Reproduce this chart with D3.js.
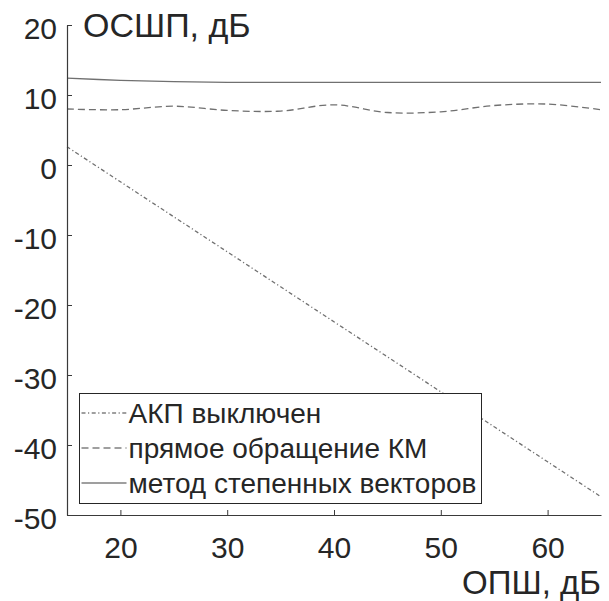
<!DOCTYPE html>
<html>
<head>
<meta charset="utf-8">
<script src="https://cdn.jsdelivr.net/npm/d3@7"></script>
<style>
  html, body { margin: 0; padding: 0; background: #fff; }
  svg { display: block; }
  text { font-family: "Liberation Sans", Arial, Helvetica, sans-serif; fill: #262626; }
</style>
</head>
<body>
<svg id="chart" width="609" height="601"></svg>
<script>
// Input SNR, dB
const snrIn = [15, 20, 25, 30, 35, 40, 45, 50, 55, 60, 65];
// Output SINR, dB, for each processing mode
const aapOff = [2.6, -2.4, -7.4, -12.4, -17.4, -22.4, -27.4, -32.4, -37.4, -42.4, -47.4];
const directInversion = [8.0, 7.9, 8.4, 7.8, 7.7, 8.6, 7.5, 7.6, 8.5, 8.7, 7.9];
const powerMethod = [12.4, 12.1, 11.9, 11.8, 11.8, 11.8, 11.8, 11.8, 11.8, 11.8, 11.8];

const xTicks = [20, 30, 40, 50, 60];
const yTicks = [-50, -40, -30, -20, -10, 0, 10, 20];

const seriesNames = ["АКП выключен", "прямое обращение КМ", "метод степенных векторов"];
const seriesDash = ["4,2.5,1.2,2.5", "7,4", null];
const seriesData = [aapOff, directInversion, powerMethod];

const yTitle = "ОСШП, дБ";
const xTitle = "ОПШ, дБ";

const svg = d3.select("#chart");
const plot = { left: 67, right: 601, top: 25, bottom: 515 };

const x = d3.scaleLinear().domain([15, 65]).range([plot.left, plot.right]);
const y = d3.scaleLinear().domain([-50, 20]).range([plot.bottom, plot.top]);

const lineColor = "#707070";
const axisColor = "#3a3a3a";

// Series lines
const line = d3.line().curve(d3.curveCatmullRom.alpha(0.5));
seriesData.forEach((vals, i) => {
  const pts = snrIn.map((v, k) => [x(v), y(vals[k])]);
  svg.append("path")
    .attr("d", line(pts))
    .attr("fill", "none")
    .attr("stroke", lineColor)
    .attr("stroke-width", 1.3)
    .attr("stroke-dasharray", seriesDash[i]);
});

// Plain hyphen for negative numbers
const fmt = v => String(v);

// Axes with inward ticks
const xAxis = d3.axisBottom(x).tickValues(xTicks).tickFormat(fmt)
  .tickSizeInner(-5).tickSizeOuter(0).tickPadding(22);
const yAxis = d3.axisLeft(y).tickValues(yTicks).tickFormat(fmt)
  .tickSizeInner(-5).tickSizeOuter(0).tickPadding(10);

const gx = svg.append("g").attr("transform", `translate(0,${plot.bottom})`).call(xAxis);
const gy = svg.append("g").attr("transform", `translate(${plot.left},0)`).call(yAxis);

[gx, gy].forEach(g => {
  g.select(".domain").attr("stroke", axisColor).attr("stroke-width", 1.2);
  g.selectAll(".tick line").attr("stroke", axisColor).attr("stroke-width", 1);
  g.selectAll(".tick text").style("font-size", "30px").attr("fill", "#262626")
    .style("font-family", "'Liberation Sans', Arial, sans-serif");
});
gy.selectAll(".tick text").attr("dy", "0.44em");

// Axis titles
svg.append("text").attr("x", 83).attr("y", 37).style("font-size", "34px").text(yTitle);
svg.append("text").attr("x", 601).attr("y", 594).attr("text-anchor", "end").style("font-size", "33px").text(xTitle);

// Legend
const leg = { x: 79.5, y: 393.5, w: 402, h: 110 };
svg.append("rect")
  .attr("x", leg.x).attr("y", leg.y).attr("width", leg.w).attr("height", leg.h)
  .attr("fill", "#fff").attr("stroke", "#262626").attr("stroke-width", 1);

seriesNames.forEach((name, i) => {
  const cy = leg.y + 19.5 + i * 35;
  svg.append("line")
    .attr("x1", leg.x + 2).attr("x2", leg.x + 47).attr("y1", cy).attr("y2", cy)
    .attr("stroke", "#404040").attr("stroke-width", 1.1)
    .attr("stroke-dasharray", seriesDash[i]);
  svg.append("text")
    .attr("x", leg.x + 49).attr("y", cy).attr("dy", "0.36em")
    .style("font-size", "28px").text(name);
});
</script>
</body>
</html>
